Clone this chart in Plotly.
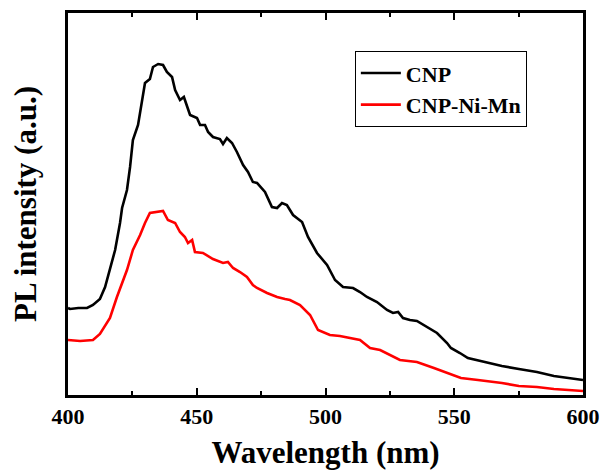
import plotly.graph_objects as go

# CNP (black) curve: wavelength (nm) and PL intensity (a.u.)
cnp_wl = [400, 400.8, 404, 407.4, 409.7, 412.4, 414.4, 417.1, 418.3, 420.2, 421, 422.9, 424.1, 425.2,
          427.2, 429.9, 431.8, 433, 435, 436.9, 438.4, 440.4, 441.6, 443.5, 445, 447.4, 450.1, 451.3,
          453.2, 454.4, 456.3, 459, 460.2, 461.7, 463.7, 465.6, 468, 469.9, 471.8, 473.4, 476.5, 479.2,
          481.2, 483.1, 485, 487.4, 490.9, 493.2, 496.7, 500.6, 503.7, 506.8, 510.7, 513.4, 516.1, 520,
          523.9, 526.2, 528.2, 530.1, 532.8, 535.5, 539.4, 543.3, 547.2, 548.7, 552.2, 555.3, 561.9,
          568.5, 575.1, 582.1, 588.7, 595.3, 600]
cnp_int = [87, 86, 87, 87, 90, 96, 108, 133, 145, 172, 187, 205, 228, 255,
           270, 312, 316, 328, 331, 330, 323, 318, 305, 295, 298, 280, 277, 270,
           270, 263, 258, 256, 251, 257, 252, 243, 230, 223, 213, 212, 203, 188,
           187, 192, 190, 180, 173, 158, 142, 130, 115, 108, 107, 103, 98, 93,
           85, 82, 83, 77, 75, 74, 68, 62, 52, 47, 42, 37, 33,
           29, 26, 23, 19, 17, 15]

# CNP-Ni-Mn (red) curve
nimn_wl = [400, 404.7, 409.7, 412.4, 416.3, 419, 422.9, 425.2, 428, 429.9, 431.8, 434.6, 436.9, 438.8,
           441.6, 443.5, 445.4, 446.6, 448.2, 449.3, 452.4, 456.3, 460.2, 462.1, 464.1, 466.8, 469.5,
           471.8, 473.4, 477.3, 481.2, 484.3, 486.2, 490.1, 494, 497.1, 501.7, 505.6, 509.5, 513.4,
           517.3, 521.2, 528.9, 535.5, 542.1, 548.7, 552.6, 559.2, 568.5, 575.1, 582.1, 588.7, 595.3, 600]
nimn_int = [55, 54, 55, 61, 77, 98, 125, 145, 160, 172, 182, 183, 184, 175,
            172, 163, 158, 152, 155, 143, 142, 136, 132, 133, 127, 123, 118,
            110, 107, 102, 98, 96, 95, 90, 80, 65, 60, 59, 57, 55,
            47, 45, 35, 33, 27, 21, 17, 15, 12, 9, 8, 6, 5, 4]

x_ticks = [400, 450, 500, 550, 600]

FONT = "Liberation Serif"

fig = go.Figure()
fig.add_trace(go.Scatter(x=cnp_wl, y=cnp_int, mode="lines", name="CNP",
                         line=dict(color="black", width=2.6)))
fig.add_trace(go.Scatter(x=nimn_wl, y=nimn_int, mode="lines", name="CNP-Ni-Mn",
                         line=dict(color="#ff0000", width=2.6)))

fig.update_layout(
    width=605, height=472,
    margin=dict(l=68, r=22, t=13, b=77, autoexpand=False),
    paper_bgcolor="white", plot_bgcolor="white",
    font=dict(family=FONT, color="black", size=22, weight="bold"),
    showlegend=True,
    legend=dict(x=0.557, y=0.9, xanchor="left", yanchor="top",
                bordercolor="black", borderwidth=1, bgcolor="white",
                font=dict(family=FONT, size=22, color="black", weight="bold"),
                tracegroupgap=0, itemwidth=40),
)
fig.update_xaxes(
    range=[400, 600], tickvals=x_ticks, ticktext=[str(v) for v in x_ticks],
    showline=True, linecolor="black", linewidth=2.5, mirror="ticks",
    ticks="inside", ticklen=7, tickwidth=2, tickcolor="black",
    minor=dict(dtick=25, tick0=400, ticks="inside", ticklen=4, tickwidth=2, tickcolor="black"),
    showgrid=False, zeroline=False, automargin=False,
    tickfont=dict(family=FONT, size=22, weight="bold"),
    title=dict(text="Wavelength (nm)", font=dict(family=FONT, size=31, weight="bold"), standoff=14),
)
fig.update_yaxes(
    range=[0, 382], showline=True, linecolor="black", linewidth=2.5, mirror=True,
    ticks="", showticklabels=False, showgrid=False, zeroline=False, automargin=False,
    title=dict(text="PL intensity (a.u.)", font=dict(family=FONT, size=31, weight="bold"), standoff=20),
)

fig.write_html("out.html")
